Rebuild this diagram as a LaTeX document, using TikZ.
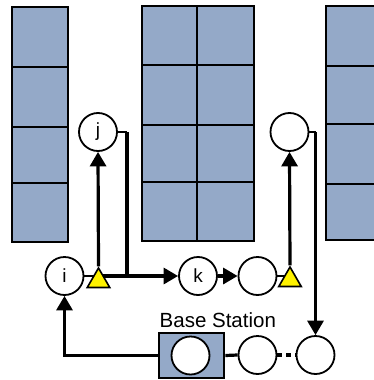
\documentclass[tikz,border=0pt]{standalone}
\usepackage{fontspec}
\setmainfont{Liberation Sans}
\usetikzlibrary{arrows.meta,shapes.geometric,backgrounds}
\definecolor{bldg}{RGB}{148,169,200}
\tikzset{
  cell/.style={fill=bldg,draw=black,line width=2pt},
  station/.style={circle,draw=black,fill=white,line width=1.8pt,minimum size=38pt,inner sep=0pt,font=\fontsize{19}{19}\selectfont},
  relay/.style={regular polygon,regular polygon sides=3,fill=yellow,draw=black,line width=1.6pt,minimum size=26pt,inner sep=0pt},
  thick link/.style={line width=3.2pt},
  thin link/.style={line width=2pt},
  tip/.style={-{Triangle[length=14.5pt,width=16pt]}},
  bsbox/.style={rectangle,fill=bldg,draw=black,line width=2.2pt,minimum width=65.6pt,minimum height=45.6pt,inner sep=0pt}
}
\begin{document}
\begin{tikzpicture}[x=1pt,y=-1pt]
\useasboundingbox (0,0) rectangle (374,380);
% left building
\foreach \a/\b in {7/67,67/127,127/183,183/242.3}
  \draw[cell] (11.7,\a) rectangle (68.3,\b);
% middle building
\foreach \a/\b in {6/65,65/125,125/182,182/241}{
  \draw[cell] (141.7,\a) rectangle (197.3,\b);
  \draw[cell] (197.3,\a) rectangle (254,\b);}
% right building
\foreach \a/\b in {6/65.7,65.7/124.3,124.3/184,184/240}
  \draw[cell] (325.7,\a) rectangle (380,\b);

% nodes
\node[station] (i) at (64.5,276) {i};
\node[station] (j) at (98,132) {j};
\node[station] (k) at (198,276) {k};
\node[station] (m) at (257.5,276) {};
\node[station] (ur) at (289.5,132) {};
\node[station] (bm) at (257.5,355) {};
\node[station] (br) at (315.5,355) {};
\node[bsbox] (bs) at (191.5,355.5) {};
\node[station] (bsc) at (190.5,355.5) {};
\node[anchor=base west,inner sep=0pt,font=\fontsize{20.5}{20.5}\selectfont] (bslabel) at (159.5,327.5) {Base Station};
\node[relay] (t1) at (98.5,281) {};
\node[relay] (t2) at (290,280) {};

\coordinate (t1c) at (t1.center |- i.east);
\coordinate (t2c) at (t2.center |- m.east);
\coordinate (jc) at (127,276);
\coordinate (urc) at (br.north |- ur.east);
\coordinate (bsl) at (i.south |- bs.west);

\begin{scope}[on background layer]
  \draw[thin link] (i.east) -- (t1c);
  \draw[thin link] (m.east) -- (t2c);
  \draw[thick link,tip] (t1c) -- (k.west);
\end{scope}
\draw[thick link,tip] (t1.corner 1) -- (j.south);
\draw[thin link] (j.east) -- (j.east -| jc);
\draw[thick link] (j.east -| jc) -- (jc);
\draw[thick link,tip] (k.east) -- (m.west);
\draw[thick link,tip] (t2.corner 1) -- (ur.south);
\draw[thin link] (ur.east) -- (urc);
\draw[thick link,tip] (urc) -- (br.north);
\draw[thick link,dash pattern=on 5pt off 4pt] (bm.east) -- (br.west);
\draw[thick link] (bs.east) -- (bm.west);
\draw[thick link,tip] (bs.west) -- (bsl) -- (i.south);
\end{tikzpicture}
\end{document}
